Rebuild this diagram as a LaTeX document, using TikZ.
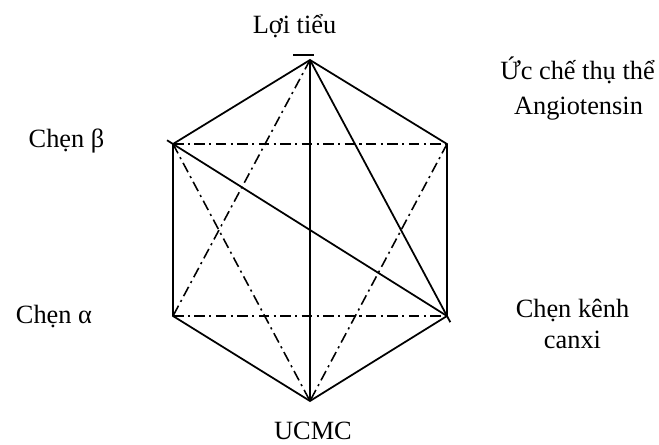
\documentclass[tikz,border=0pt]{standalone}
\usepackage{fontspec}
\setmainfont{Liberation Serif}
\usetikzlibrary{positioning}
\begin{document}
\begin{tikzpicture}[>=stealth, line width=1pt,
		nhan/.style={font=\fontsize{15}{18}\selectfont, inner sep=0pt, anchor=base},
		gachcham/.style={line width=.9pt, dash pattern=on 6pt off 2.5pt on 1.2pt off 2.5pt}]
	\useasboundingbox (0,0) rectangle (13.18,8.88);
	% Các đỉnh lục giác
	\coordinate (T) at (6.2,7.68);
	\coordinate (TT) at (3.46,6.0);
	\coordinate (TP) at (8.94,6.0);
	\coordinate (DT) at (3.46,2.56);
	\coordinate (DP) at (8.94,2.56);
	\coordinate (D) at (6.2,0.86);
	% Nhãn
	\node[nhan] (loitieu) at (5.89,8.22) {Lợi tiểu};
	\node[nhan] (ucche) at (11.55,7.3) {Ức chế thụ thể};
	\node[nhan] (angio) at (11.57,6.6) {Angiotensin};
	\node[nhan] (chenb) at (1.33,5.94) {Chẹn β};
	\node[nhan] (chena) at (1.08,2.42) {Chẹn α};
	\node[nhan] (chenk) at (11.45,2.54) {Chẹn kênh};
	\node[nhan] (canxi) at (11.45,1.92) {canxi};
	\node[nhan] (ucmc) at (6.26,0.1) {UCMC};
	% Cạnh lục giác
	\draw (T)--(TP)--(DP)--(D)--(DT)--(TT)--cycle;
	% Đường liền
	\draw (T)--(D);
	\draw[shorten <=-4pt] (TT)--(DP);
	\draw[shorten >=-4pt] (T)--(DP);
	\draw (5.86,7.78)--(6.28,7.78);
	% Đường gạch chấm
	\foreach \a/\b in {TT/TP, DT/DP, T/DT, TT/D, TP/D}{
		\draw[gachcham] (\a)--(\b);
	}
\end{tikzpicture}
\end{document}
